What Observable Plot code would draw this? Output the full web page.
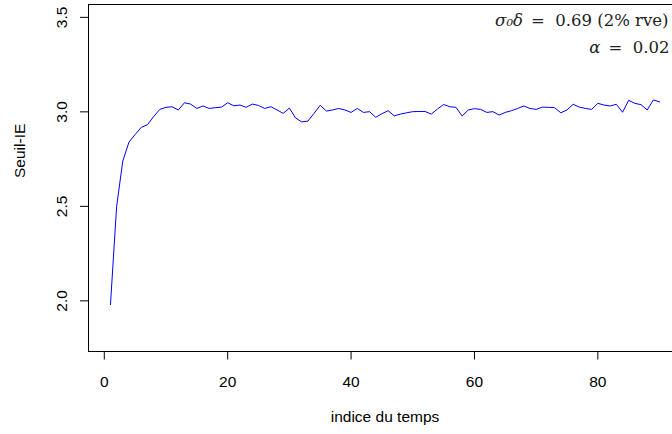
<!DOCTYPE html>
<html><head><meta charset="utf-8">
<script src="https://cdn.jsdelivr.net/npm/d3@7"></script>
<script src="https://cdn.jsdelivr.net/npm/@observablehq/plot@0.6"></script>
<style>html,body{margin:0;padding:0;background:#fff;overflow:hidden;width:672px;height:434px}
#chart svg{max-width:none !important;display:block}</style>
</head><body><div id="chart"></div>
<script>
const timeIndex = [1,2,3,4,5,6,7,8,9,10,11,12,13,14,15,16,17,18,19,20,21,22,23,24,25,26,27,28,29,30,
  31,32,33,34,35,36,37,38,39,40,41,42,43,44,45,46,47,48,49,50,51,52,53,54,55,56,57,58,59,60,
  61,62,63,64,65,66,67,68,69,70,71,72,73,74,75,76,77,78,79,80,81,82,83,84,85,86,87,88,89,90];
const seuilIE = [1.98,2.50,2.74,2.84,2.88,2.918,2.932,2.975,3.013,3.024,
  3.027,3.010,3.048,3.041,3.018,3.031,3.018,3.022,3.025,3.048,
  3.032,3.036,3.024,3.041,3.034,3.018,3.027,3.010,2.992,3.020,
  2.968,2.947,2.951,2.992,3.035,3.004,3.010,3.018,3.010,2.997,
  3.018,2.997,3.001,2.971,2.990,3.006,2.979,2.988,2.995,3.001,
  3.002,3.002,2.988,3.015,3.039,3.027,3.024,2.978,3.010,3.017,
  3.013,2.997,3.001,2.983,2.997,3.006,3.018,3.031,3.018,3.013,
  3.025,3.024,3.022,2.995,3.010,3.040,3.025,3.018,3.013,3.045,
  3.036,3.031,3.040,2.998,3.061,3.045,3.038,3.010,3.063,3.053];
const xTicks = [0, 20, 40, 60, 80];
const yTicks = [2.0, 2.5, 3.0, 3.5];
const xLabel = "indice du temps";
const yLabel = "Seuil-IE";
const annotation1Symbol = "σ₀δ";
const annotation1Rest = "=  0.69 (2% rve)";
const annotation2Symbol = "α";
const annotation2Rest = "=  0.02";

const data = timeIndex.map((t, i) => ({t, v: seuilIE[i]}));
const sans = "'Liberation Sans', Arial, sans-serif";
const serif = "'DejaVu Serif', serif";
const annSize = 16.5;

const ctx = document.createElement("canvas").getContext("2d");
ctx.font = `${annSize}px 'DejaVu Serif'`;
const w1 = ctx.measureText(annotation1Rest).width;
const w2 = ctx.measureText(annotation2Rest).width;

const annStyle = {frameAnchor: "top-right", textAnchor: "end", lineAnchor: "bottom", fontFamily: serif, fontSize: annSize, fill: "#222"};

const chart = Plot.plot({
  width: 700, height: 434,
  marginLeft: 88, marginRight: 19, marginTop: 4, marginBottom: 83,
  x: {domain: [-2.56, 93.56], label: null},
  y: {domain: [1.732, 3.568], label: null},
  style: {fontFamily: sans, fontSize: "15.5px", color: "#000", background: "#fff", maxWidth: "none"},
  marks: [
    Plot.frame({stroke: "#000", strokeWidth: 1}),
    Plot.axisX({ticks: xTicks, tickSize: 8.5, tickPadding: 16, fontSize: 15.5, label: null}),
    Plot.axisY({ticks: yTicks, tickSize: 8, tickPadding: 14, tickRotate: -90, tickFormat: ".1f", fontSize: 15.5, label: null}),
    Plot.line(data, {x: "t", y: "v", stroke: "#0000ff", strokeWidth: 1}),
    Plot.text([xLabel], {frameAnchor: "bottom", dy: 70, fontSize: 15.5, fill: "#000"}),
    Plot.text([yLabel], {frameAnchor: "left", dx: -68, rotate: -90, fontSize: 15.5, fill: "#000"}),
    Plot.text([annotation1Rest], {...annStyle, dx: -13, dy: 21}),
    Plot.text([annotation1Symbol], {...annStyle, dx: -13 - w1 - 8, dy: 21, fontStyle: "italic"}),
    Plot.text([annotation2Rest], {...annStyle, dx: -12, dy: 48.5}),
    Plot.text([annotation2Symbol], {...annStyle, dx: -12 - w2 - 8, dy: 48.5, fontStyle: "italic"})
  ]
});
document.getElementById("chart").appendChild(chart);
</script>
</body></html>
